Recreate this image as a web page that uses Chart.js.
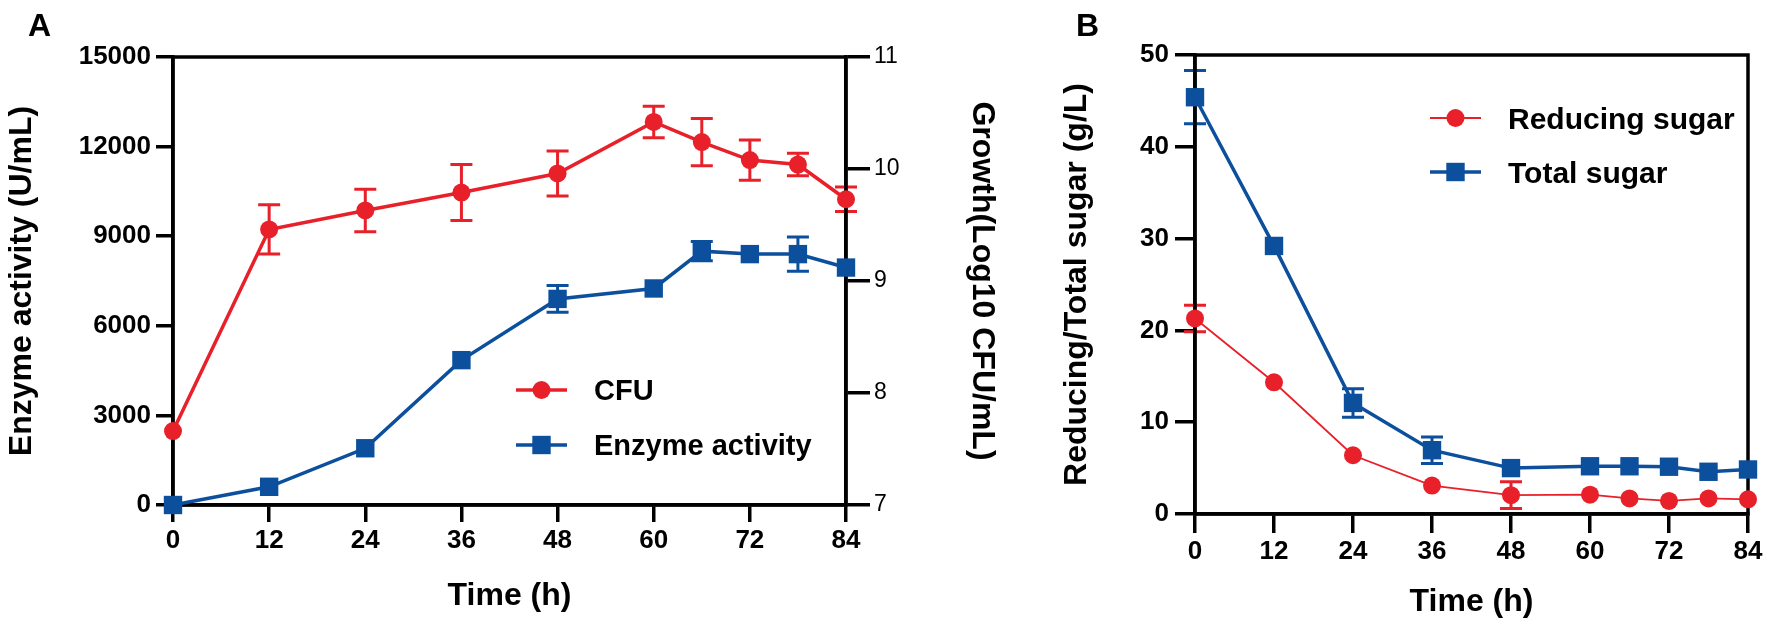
<!DOCTYPE html>
<html>
<head>
<meta charset="utf-8">
<script src="https://cdn.jsdelivr.net/npm/chart.js"></script>
<style>
  html, body { margin: 0; padding: 0; background: #fff; overflow: hidden; }
  #wrapA { position: absolute; left: 0; top: 0; }
  #wrapB { position: absolute; left: 1010px; top: 0; }
</style>
</head>
<body>
<div id="wrapA"><canvas id="chartA" width="1010" height="628"></canvas></div>
<div id="wrapB"><canvas id="chartB" width="759" height="628"></canvas></div>
<script>
// sampling times (h)
const hours = [0, 12, 24, 36, 48, 60, 66, 72, 78, 84];

// panel A
const cfuLog = [7.66, 9.46, 9.63, 9.79, 9.96, 10.42, 10.24, 10.08, 10.04, 9.73];
const cfuErr = [0, 0.22, 0.19, 0.25, 0.2, 0.14, 0.21, 0.18, 0.1, 0.11];
const enzymeActivity = [0, 610, 1900, 4850, 6900, 7250, 8500, 8400, 8400, 7950];
const enzymeErr = [0, 0, 0, 0, 450, 0, 320, 0, 570, 0];

// panel B
const reducingSugar = [21.3, 14.35, 6.4, 3.1, 2.05, 2.1, 1.7, 1.42, 1.7, 1.6];
const reducingErr = [1.45, 0, 0, 0, 1.45, 0, 0, 0, 0, 0];
const totalSugar = [45.4, 29.2, 12.1, 6.95, 5.0, 5.2, 5.2, 5.15, 4.6, 4.85];
const totalErr = [2.9, 0, 1.55, 1.45, 0, 0, 0, 0, 0, 0];

const RED = '#e8202a';
const BLUE = '#0b4f9d';
const FONT = "'Liberation Sans', Arial, Helvetica, sans-serif";

Chart.defaults.font.family = FONT;
Chart.defaults.color = '#000';

function pts(ys) {
  return hours.map((h, i) => ({ x: h, y: ys[i] }));
}

// vertical error bars with caps, drawn under the markers
const errorBars = {
  id: 'errorBars',
  beforeDatasetsDraw(chart) {
    const ctx = chart.ctx;
    chart.data.datasets.forEach((ds, i) => {
      if (!ds.errors) return;
      const meta = chart.getDatasetMeta(i);
      const ys = chart.scales[meta.yAxisID];
      ctx.save();
      ctx.strokeStyle = ds.borderColor;
      ctx.lineWidth = 3;
      meta.data.forEach((p, j) => {
        const e = ds.errors[j];
        if (!e) return;
        const v = ds.data[j].y;
        const t = ys.getPixelForValue(v + e);
        const b = ys.getPixelForValue(v - e);
        const cap = 11;
        ctx.beginPath();
        ctx.moveTo(p.x, t); ctx.lineTo(p.x, b);
        ctx.moveTo(p.x - cap, t); ctx.lineTo(p.x + cap, t);
        ctx.moveTo(p.x - cap, b); ctx.lineTo(p.x + cap, b);
        ctx.stroke();
      });
      ctx.restore();
    });
  }
};

// closed frame round the plot area + panel letter
const frame = {
  id: 'frame',
  beforeDatasetsDraw(chart, args, opts) {
    const { ctx, chartArea: a } = chart;
    ctx.save();
    ctx.strokeStyle = '#000';
    ctx.lineWidth = 3.5;
    ctx.strokeRect(a.left, a.top, a.right - a.left, a.bottom - a.top);
    ctx.font = 'bold 32px ' + FONT;
    ctx.fillStyle = '#000';
    ctx.textBaseline = 'alphabetic';
    ctx.fillText(opts.letter, opts.lx, opts.ly);
    ctx.restore();
  }
};

// legend drawn inside the plot
const markLegend = {
  id: 'markLegend',
  afterDatasetsDraw(chart, args, opts) {
    const ctx = chart.ctx;
    chart.data.datasets.forEach((ds, i) => {
      const y = opts.rows[i];
      const cx = (opts.x0 + opts.x1) / 2;
      ctx.save();
      ctx.strokeStyle = ds.borderColor;
      ctx.lineWidth = ds.borderWidth;
      ctx.beginPath();
      ctx.moveTo(opts.x0, y);
      ctx.lineTo(opts.x1, y);
      ctx.stroke();
      ctx.fillStyle = ds.backgroundColor;
      if (ds.pointStyle === 'rect') {
        const s = ds.pointRadius * Math.SQRT1_2;
        ctx.fillRect(cx - s, y - s, 2 * s, 2 * s);
      } else {
        ctx.beginPath();
        ctx.arc(cx, y, ds.pointRadius, 0, Math.PI * 2);
        ctx.fill();
      }
      ctx.font = 'bold ' + opts.size + 'px ' + FONT;
      ctx.fillStyle = '#000';
      ctx.textBaseline = 'alphabetic';
      ctx.fillText(ds.label, opts.tx, y + 0.36 * opts.size);
      ctx.restore();
    });
  }
};

function timeAxis(height, tickLen, titlePad) {
  return {
    type: 'linear',
    min: 0, max: 84,
    ticks: { stepSize: 12, font: { size: 26, weight: 'bold' }, padding: 3, maxRotation: 0 },
    grid: { drawOnChartArea: false, tickLength: tickLen, lineWidth: 3.5, color: '#000' },
    border: { color: '#000', width: 3.5 },
    title: { display: true, text: 'Time (h)', font: { size: 32, weight: 'bold' }, padding: { top: 0, bottom: titlePad } },
    afterFit: s => { s.height = height; }
  };
}

new Chart(document.getElementById('chartA'), {
  type: 'line',
  data: {
    datasets: [{
      label: 'CFU',
      data: pts(cfuLog),
      errors: cfuErr,
      yAxisID: 'y1',
      borderColor: RED,
      backgroundColor: RED,
      borderWidth: 3.5,
      pointStyle: 'circle',
      pointRadius: 9,
      pointBorderWidth: 0,
      clip: false
    }, {
      label: 'Enzyme activity',
      data: pts(enzymeActivity),
      errors: enzymeErr,
      yAxisID: 'y',
      borderColor: BLUE,
      backgroundColor: BLUE,
      borderWidth: 3.5,
      pointStyle: 'rect',
      pointRadius: 13,
      pointBorderWidth: 0,
      clip: false
    }]
  },
  options: {
    responsive: false,
    animation: false,
    events: [],
    layout: { padding: { top: 57, left: 0, right: 0, bottom: 0 } },
    scales: {
      x: timeAxis(123, 17, 13),
      y: {
        position: 'left',
        min: 0, max: 15000,
        ticks: { stepSize: 3000, font: { size: 26, weight: 'bold' }, padding: 5, callback: v => String(v) },
        grid: { drawOnChartArea: false, tickLength: 17, lineWidth: 3.5, color: '#000' },
        border: { color: '#000', width: 3.5 },
        title: { display: true, text: 'Enzyme activity (U/mL)', font: { size: 32, weight: 'bold' }, padding: { top: 3, bottom: 0 } },
        afterFit: s => { s.width = 173; }
      },
      y1: {
        position: 'right',
        min: 7, max: 11,
        ticks: { stepSize: 1, font: { size: 23 }, padding: 4 },
        grid: { drawOnChartArea: false, tickLength: 24, lineWidth: 3.5, color: '#000' },
        border: { color: '#000', width: 3.5 },
        title: { display: true, text: 'Growth(Log10 CFU/mL)', font: { size: 32, weight: 'bold' }, padding: { top: 9, bottom: 0 } },
        afterFit: s => { s.width = 164; }
      }
    },
    plugins: {
      legend: { display: false },
      tooltip: { enabled: false },
      frame: { letter: 'A', lx: 28, ly: 36 },
      markLegend: { x0: 516, x1: 567, tx: 594, rows: [390, 445], size: 29 }
    }
  },
  plugins: [errorBars, frame, markLegend]
});

new Chart(document.getElementById('chartB'), {
  type: 'line',
  data: {
    datasets: [{
      label: 'Reducing sugar',
      data: pts(reducingSugar),
      errors: reducingErr,
      borderColor: RED,
      backgroundColor: RED,
      borderWidth: 1.8,
      pointStyle: 'circle',
      pointRadius: 9,
      pointBorderWidth: 0,
      clip: false
    }, {
      label: 'Total sugar',
      data: pts(totalSugar),
      errors: totalErr,
      borderColor: BLUE,
      backgroundColor: BLUE,
      borderWidth: 3.5,
      pointStyle: 'rect',
      pointRadius: 13,
      pointBorderWidth: 0,
      clip: false
    }]
  },
  options: {
    responsive: false,
    animation: false,
    events: [],
    layout: { padding: { top: 55, left: 0, right: 21, bottom: 0 } },
    scales: {
      x: timeAxis(114, 19, 7),
      y: {
        position: 'left',
        min: 0, max: 50,
        ticks: { stepSize: 10, font: { size: 26, weight: 'bold' }, padding: 6 },
        grid: { drawOnChartArea: false, tickLength: 20, lineWidth: 3.5, color: '#000' },
        border: { color: '#000', width: 3.5 },
        title: { display: true, text: 'Reducing/Total sugar (g/L)', font: { size: 32, weight: 'bold' }, padding: { top: 48, bottom: 0 } },
        afterFit: s => { s.width = 185; }
      }
    },
    plugins: {
      legend: { display: false },
      tooltip: { enabled: false },
      frame: { letter: 'B', lx: 66, ly: 36 },
      markLegend: { x0: 420, x1: 471, tx: 498, rows: [118, 172], size: 30 }
    }
  },
  plugins: [errorBars, frame, markLegend]
});
</script>
</body>
</html>
